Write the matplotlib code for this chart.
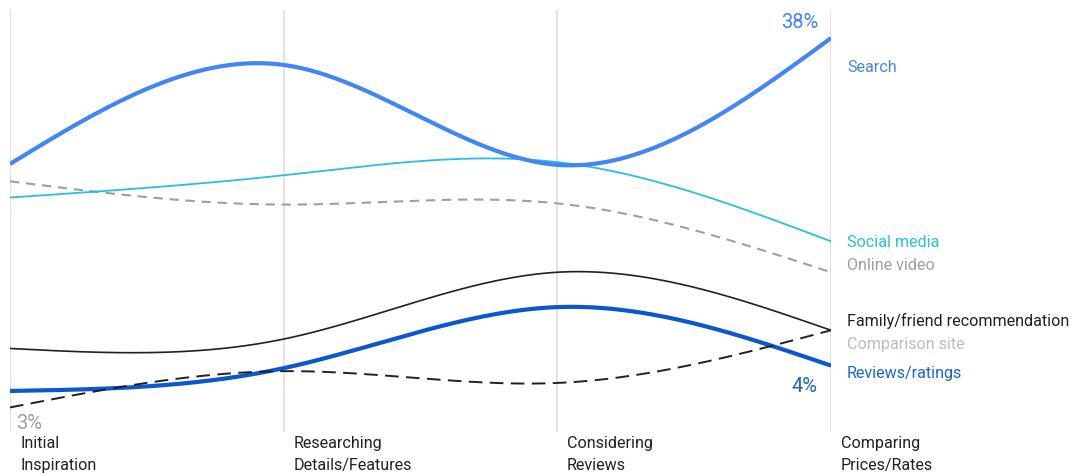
import numpy as np
import matplotlib
matplotlib.use("Agg")
import matplotlib.pyplot as plt

plt.rcParams['font.family'] = ['Roboto', 'DejaVu Sans']

# Journey stages (x axis) and share of shoppers per source (%)
stages = ["Initial\nInspiration", "Researching\nDetails/Features",
          "Considering\nReviews", "Comparing\nPrices/Rates"]
search = [16.0, 31.6, 15.9, 38.0]
social_media = [12.7, 14.8, 16.2, 9.4]
online_video = [14.2, 12.1, 12.2, 7.6]
family_friend = [4.5, 4.8, 7.6, 5.1]
comparison_site = [3.0, 3.85, 3.55, 5.1]
reviews_ratings = [3.36, 3.93, 5.98, 4.0]

series_names = ["Search", "Social media", "Online video",
                "Family/friend recommendation", "Comparison site", "Reviews/ratings"]


def natural_spline(xs, ys, xq):
    xs = np.asarray(xs, float)
    ys = np.asarray(ys, float)
    n = len(xs)
    h = np.diff(xs)
    A = np.zeros((n, n))
    r = np.zeros(n)
    A[0, 0] = 1.0
    A[-1, -1] = 1.0
    for i in range(1, n - 1):
        A[i, i - 1] = h[i - 1]
        A[i, i] = 2 * (h[i - 1] + h[i])
        A[i, i + 1] = h[i]
        r[i] = 6 * ((ys[i + 1] - ys[i]) / h[i] - (ys[i] - ys[i - 1]) / h[i - 1])
    M = np.linalg.solve(A, r)
    out = np.empty_like(xq)
    for k, x in enumerate(xq):
        i = min(max(np.searchsorted(xs, x) - 1, 0), n - 2)
        t0, t1 = xs[i], xs[i + 1]
        hi = h[i]
        a = (t1 - x) / hi
        b = (x - t0) / hi
        out[k] = (a * ys[i] + b * ys[i + 1]
                  + ((a ** 3 - a) * M[i] + (b ** 3 - b) * M[i + 1]) * hi ** 2 / 6)
    return out


W, H = 1084, 473
fig = plt.figure(figsize=(W / 100, H / 100), dpi=100)
left_px, right_px, top_px, bottom_px = 10, 831, 10, 432
ax = fig.add_axes([left_px / W, 1 - bottom_px / H,
                   (right_px - left_px) / W, (bottom_px - top_px) / H])

x_nodes = np.arange(len(stages))
xq = np.linspace(0, len(stages) - 1, 400)


def smooth(vals):
    # spline through the points in log space, matching the log y scale
    return np.exp(natural_spline(x_nodes, np.log(vals), xq))


ax.set_yscale('log')
ax.set_ylim(2.534, 46.1)
ax.set_xlim(0, len(stages) - 1)

grid_col = '#e3e3e3'
for xn in x_nodes:
    ax.axvline(xn, color=grid_col, lw=1.5, zorder=0)

ax.plot(xq, smooth(online_video), color='#9aa0a6', lw=1.5, ls=(0, (4.5, 3.2)), zorder=2)
ax.plot(xq, smooth(social_media), color='#24c1e0', lw=1.3, zorder=3)
ax.plot(xq, smooth(search), color='#4285f4', lw=3.0, zorder=4,
        solid_capstyle='butt')
ax.plot(xq, smooth(family_friend), color='#202124', lw=1.2, zorder=3)
ax.plot(xq, smooth(reviews_ratings), color='#0b57d0', lw=3.0, zorder=4,
        solid_capstyle='butt')
ax.plot(xq, smooth(comparison_site), color='#202124', lw=1.4,
        ls=(0, (7, 3.8)), zorder=5)

for s in ax.spines.values():
    s.set_visible(False)
ax.set_xticks([])
ax.set_yticks([])
ax.yaxis.set_minor_locator(matplotlib.ticker.NullLocator())

# Series labels to the right of the last stage
label_specs = [
    ("Search", 67, '#4285f4'),
    ("Social media", 242, '#24c1e0'),
    ("Online video", 265, '#9e9e9e'),
    ("Family/friend recommendation", 321, '#202124'),
    ("Comparison site", 344, '#bdbdbd'),
    ("Reviews/ratings", 373, '#1967d2'),
]
for name, ypx, col in label_specs:
    fig.text(847 / W, 1 - ypx / H, name, color=col, fontsize=11.6,
             ha='left', va='center')

# Value callouts
fig.text(818 / W, 1 - 22 / H, f"{search[-1]:.0f}%", color='#4285f4',
         fontsize=14.5, ha='right', va='center')
fig.text(818 / W, 1 - 386 / H, f"{reviews_ratings[-1]:.0f}%", color='#1967d2',
         fontsize=14.5, ha='right', va='center')
fig.text(16 / W, 1 - 423 / H, f"{comparison_site[0]:.0f}%", color='#a0a0a0',
         fontsize=14.5, ha='left', va='center')

# Stage names under each gridline
stage_px = [10, 284, 557, 831]
for xp, name in zip(stage_px, stages):
    fig.text((xp + 10) / W, 1 - 436 / H, name, color='#202124', fontsize=11.6,
             ha='left', va='top', linespacing=1.62)

fig.savefig("out.png", dpi=100)
